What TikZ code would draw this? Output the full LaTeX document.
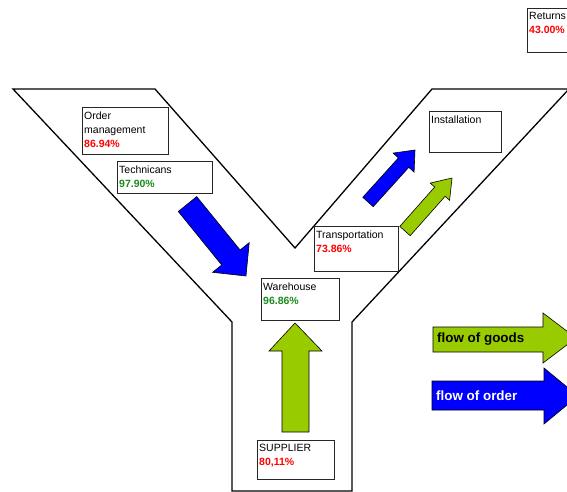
\documentclass[tikz,border=0pt]{standalone}
\usepackage{fontspec}
\setmainfont{Liberation Sans}
\definecolor{goodsgreen}{RGB}{153,204,0}
\definecolor{orderblue}{RGB}{0,0,255}
\definecolor{pctred}{RGB}{255,0,0}
\definecolor{pctgreen}{RGB}{25,140,25}
\newcommand{\pctr}[1]{\textcolor{pctred}{\textbf{#1}}}
\newcommand{\pctg}[1]{\textcolor{pctgreen}{\textbf{#1}}}

\begin{document}
\begin{tikzpicture}[x=1pt, y=-1pt,
    box/.style={draw=black!85, line width=0.8pt, fill=white, anchor=north west, inner sep=0pt},
    boxtext/.style={anchor=north west, align=left, inner xsep=2pt, inner ysep=4.3pt, font=\fontsize{10.5}{14}\selectfont},
    goodsarrow/.style={fill=goodsgreen, draw=black, line width=0.6pt},
    orderarrow/.style={fill=orderblue, draw=black, line width=0.6pt},
    flowtext/.style={anchor=west, inner sep=0pt, font=\fontsize{13.4}{15}\selectfont\bfseries}]
    \useasboundingbox (0,0) rectangle (567,492);
    \clip (0,0) rectangle (567,492);

    % the Y
    \draw[line width=1.3pt, line join=miter] (13,89) -- (155,89) -- (295,248) -- (432,89) -- (569,89)
        -- (352,322) -- (352,491) -- (232,491) -- (232,322) -- cycle;

    % arrows inside the Y
    \draw[orderarrow] (178.3,211.5) -- (196.7,196.6) -- (240.1,250.0) -- (249.2,242.7) -- (246,276)
        -- (212.6,272.3) -- (221.7,265.0) -- cycle;
    \draw[orderarrow] (362.8,197.3) -- (373.2,206.7) -- (408.8,167.3) -- (414.1,172.1) -- (415,150)
        -- (393.1,153.1) -- (398.4,157.9) -- cycle;
    \draw[goodsarrow] (399.8,226.4) -- (410.2,235.7) -- (445.1,196.3) -- (449.6,200.3) -- (452,178)
        -- (430.2,183.1) -- (434.7,187.0) -- cycle;
    \draw[goodsarrow] (282,432) -- (282,351) -- (269,351) -- (295,323) -- (322,351) -- (309,351)
        -- (309,432) -- cycle;

    % boxes
    \node[box, minimum width=86pt, minimum height=47pt] (order) at (82,107) {};
    \node[boxtext] at (order.north west) {Order\\management\\\pctr{86.94\%}};
    \node[box, minimum width=95pt, minimum height=32pt] (tech) at (117,161) {};
    \node[boxtext] at (tech.north west) {Technicans\\\pctg{97.90\%}};
    \node[box, minimum width=78pt, minimum height=42pt] (ware) at (261,278) {};
    \node[boxtext] at (ware.north west) {Warehouse\\\pctg{96.86\%}};
    \node[box, minimum width=77pt, minimum height=39pt] (supp) at (257,440) {};
    \node[boxtext] at (supp.north west) {SUPPLIER\\\pctr{80,11\%}};
    \node[box, minimum width=84pt, minimum height=45pt] (trans) at (314,226) {};
    \node[boxtext] at (trans.north west) {Transportation\\\pctr{73.86\%}};
    \node[box, minimum width=72pt, minimum height=41pt] (inst) at (429,111) {};
    \node[boxtext] at (inst.north west) {Installation};
    \node[box, minimum width=60pt, minimum height=44pt] (ret) at (527,8) {};
    \node[boxtext] at (ret.north west) {Returns\\\pctr{43.00\%}};

    % legend
    \draw[goodsarrow] (433,327) -- (543,327) -- (543,313) -- (576,338) -- (543,363) -- (543,352)
        -- (433,352) -- cycle;
    \node[flowtext] (goods) at (437,339.5) {flow of goods};
    \draw[orderarrow] (432,381) -- (544,381) -- (544,368) -- (578,396) -- (544,424) -- (544,410)
        -- (432,410) -- cycle;
    \node[flowtext, text=white] (orderflow) at (436,395.5) {flow of order};
\end{tikzpicture}
\end{document}
